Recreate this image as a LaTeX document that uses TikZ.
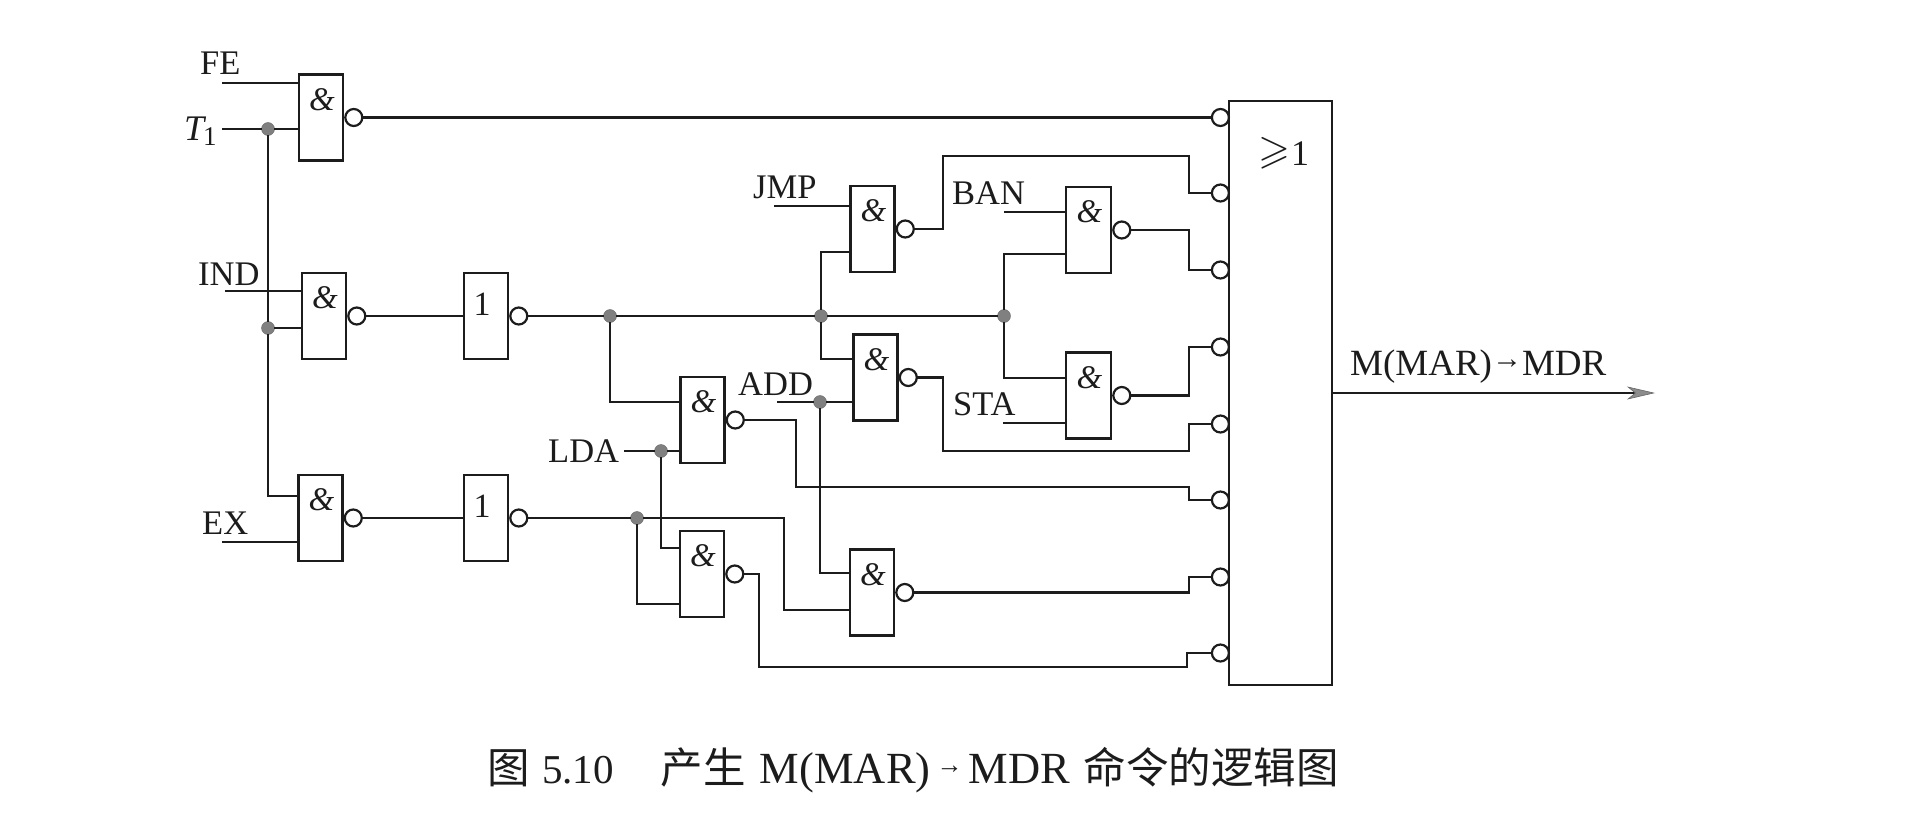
\documentclass[tikz,border=0pt]{standalone}
\usepackage{amssymb}
\usepackage{fontspec}
\setmainfont{Liberation Serif}
\newfontfamily\cjk{Noto Sans CJK SC}
\usetikzlibrary{arrows.meta}
\definecolor{ink}{HTML}{1C1C1C}
\tikzset{
  wire/.style={draw=ink,line width=2.3pt,line cap=rect},
  gate/.style={draw=ink,line width=2.4pt,rectangle,fill=white,minimum width=44pt,minimum height=86pt,inner sep=0pt},
  sym/.style={inner sep=0pt,text=ink,font=\fontsize{33}{36}\selectfont\itshape},
  onesym/.style={inner sep=0pt,text=ink,font=\fontsize{34}{36}\selectfont},
  bub/.style={circle,draw=ink,line width=2.2pt,fill=white,minimum size=17pt,inner sep=0pt},
  jn/.style={circle,fill=black!50,draw=black!60,line width=0.4pt,minimum size=13pt,inner sep=0pt},
  lab/.style={anchor=base west,inner sep=0pt,text=ink,font=\fontsize{34.5}{36}\selectfont},
}
\begin{document}
\begin{tikzpicture}[x=1pt,y=-1pt]
\useasboundingbox (0,0) rectangle (1908,832);
% gates
\node[gate] (gFE) at (321,117.5) {};
\node[gate] (gIND) at (324,316) {};
\node[gate] (gEX) at (320.5,518) {};
\node[gate] (nA) at (486,316) {};
\node[gate] (nB) at (486,518) {};
\node[gate] (gJMP) at (872.5,229) {};
\node[gate] (gADD) at (875.5,377.5) {};
\node[gate] (gLDA) at (702.5,420) {};
\node[gate] (gLOW) at (702,574) {};
\node[gate] (gR) at (872,592.5) {};
\node[gate,minimum width=45pt] (gBAN) at (1088.5,230) {};
\node[gate,minimum width=45pt] (gSTA) at (1088.5,395.5) {};
\node[draw=ink,line width=2.4pt,fill=white,minimum width=103pt,minimum height=584pt,inner sep=0pt] (box) at (1280.5,393) {};
% gate symbols
\foreach \g in {gFE,gIND,gEX,gJMP,gADD,gLDA,gLOW,gR,gBAN,gSTA}
  \node[sym] (s\g) at ([yshift=18pt,xshift=1pt]\g.center) {\&};
\node[onesym] (sA) at ([yshift=12pt,xshift=-4pt]nA.center) {1};
\node[onesym] (sB) at ([yshift=12pt,xshift=-4pt]nB.center) {1};
\node[anchor=base west,inner sep=0pt,text=ink,font=\fontsize{41}{44}\selectfont] (sBox) at (1258,165)
  {\raisebox{2pt}{$\geqslant$}\hspace{1pt}{\fontsize{36}{38}\selectfont 1}};
% output bubbles
\foreach \g/\b in {gFE/bFE,gIND/bIND,gEX/bEX,nA/bA,nB/bB,gJMP/bJMP,gADD/bADD,gLDA/bLDA,gLOW/bLOW,gR/bR,gBAN/bBAN,gSTA/bSTA}
  \node[bub,anchor=west] (\b) at (\g.east) {};
% OR-gate input bubbles
\foreach \n/\y in {1/117.5,2/193,3/270,4/347,5/424,6/500,7/577,8/653}
  \node[bub,anchor=east] (o\n) at (1230,\y) {};
% junctions
\node[jn] (dT) at (268,129) {};
\node[jn] (dI) at (268,328) {};
\node[jn] (dA) at (610,316) {};
\node[jn] (dB) at (637,518) {};
\node[jn] (dM) at (821,316) {};
\node[jn] (dR) at (1004,316) {};
\node[jn] (dADD) at (820,402) {};
\node[jn] (dLDA) at (661,451) {};
% labels
\node[lab] (lFE) at (200,75) {FE};
\node[lab,font=\fontsize{36}{38}\selectfont\itshape] (lT) at (184,140) {T};
\node[lab,font=\fontsize{27}{30}\selectfont] (lTs) at (203,146) {1};
\node[lab] (lIND) at (198,285) {IND};
\node[lab] (lEX) at (202,534) {EX};
\node[lab] (lLDA) at (548,462) {LDA};
\node[lab] (lJMP) at (753,198) {JMP};
\node[lab] (lADD) at (738,395) {ADD};
\node[lab] (lBAN) at (952,204) {BAN};
\node[lab] (lSTA) at (953,415) {STA};
\node[lab,font=\fontsize{37}{40}\selectfont] (lOut) at (1350,375) {M(MAR)\raisebox{6.5pt}{\fontsize{30}{32}\selectfont →}MDR};
\node[anchor=base west,inner sep=0pt,text=ink,font=\fontsize{44.5}{48}\selectfont] (cap) at (487,783)
  {{\cjk\fontsize{42.5}{46}\selectfont 图}\hspace{12.5pt}{\fontsize{41}{46}\selectfont 5.10}\hspace{47pt}{\cjk\fontsize{42.5}{46}\selectfont 产生}\hspace{14pt}M(MAR)\hspace{6pt}\raisebox{9.5pt}{\fontsize{26}{30}\selectfont →}\hspace{6pt}MDR\hspace{14pt}{\cjk\fontsize{42.5}{46}\selectfont 命令的逻辑图}};
% free ends
\coordinate (iFE) at (223,83);
\coordinate (iT) at (223,129);
\coordinate (iIND) at (226,291);
\coordinate (iEX) at (223,542);
\coordinate (iLDA) at (625,451);
\coordinate (iJMP) at (775,206);
\coordinate (iADD) at (778,402);
\coordinate (iBAN) at (1005,212);
\coordinate (iSTA) at (1004,423);
\coordinate (tip) at (1655,393);
% input wires
\draw[wire] (iFE) -- (gFE.west |- iFE);
\draw[wire] (iT) -- (dT);
\draw[wire] (dT) -- (gFE.west |- dT);
\draw[wire] (dT) -- (dI);
\draw[wire] (dI) |- (gEX.west |- 0,496);
\draw[wire] (iIND) -- (gIND.west |- iIND);
\draw[wire] (dI) -- (gIND.west |- dI);
\draw[wire] (iEX) -- (gEX.west |- iEX);
\draw[wire] (bIND) -- (nA.west);
\draw[wire] (bEX) -- (nB.west);
\draw[wire] (bA) -- (dA);
\draw[wire] (dA) -- (dM);
\draw[wire] (dM) -- (dR);
\draw[wire] (bB) -- (dB);
\draw[wire] (dA) |- (gLDA.west |- 0,402);
\draw[wire] (iLDA) -- (dLDA);
\draw[wire] (dLDA) -- (gLDA.west |- dLDA);
\draw[wire] (dLDA) |- (gLOW.west |- 0,548);
\draw[wire] (dB) |- (gLOW.west |- 0,604);
\draw[wire] (dB) -| (784,610) -- (gR.west |- 0,610);
\draw[wire] (iJMP) -- (gJMP.west |- iJMP);
\draw[wire] (dM) |- (gJMP.west |- 0,252);
\draw[wire] (dM) |- (gADD.west |- 0,359);
\draw[wire] (iADD) -- (dADD);
\draw[wire] (dADD) -- (gADD.west |- dADD);
\draw[wire] (dADD) |- (gR.west |- 0,573);
\draw[wire] (iBAN) -- (gBAN.west |- iBAN);
\draw[wire] (dR) |- (gBAN.west |- 0,254);
\draw[wire] (dR) |- (gSTA.west |- 0,378);
\draw[wire] (iSTA) -- (gSTA.west |- iSTA);
% outputs to the OR gate
\draw[wire] (bFE) -- (o1);
\draw[wire] (bJMP) -| (943,156) -| (1189,193) -- (o2);
\draw[wire] (bBAN) -| (1189,270) -- (o3);
\draw[wire] (bSTA) -| (1189,347) -- (o4);
\draw[wire] (bADD) -| (943,451) -| (1189,424) -- (o5);
\draw[wire] (bLDA) -| (796,487) -| (1189,500) -- (o6);
\draw[wire] (bR) -| (1189,577) -- (o7);
\draw[wire] (bLOW) -| (759,667) -| (1187,653) -- (o8);
\draw[draw=ink,line width=2.5pt,-{Stealth[length=28pt,width=13pt,fill=black!45,color=black!60,line width=0.6pt,inset=8pt]}] (box.east) -- (tip);
\end{tikzpicture}
\end{document}
